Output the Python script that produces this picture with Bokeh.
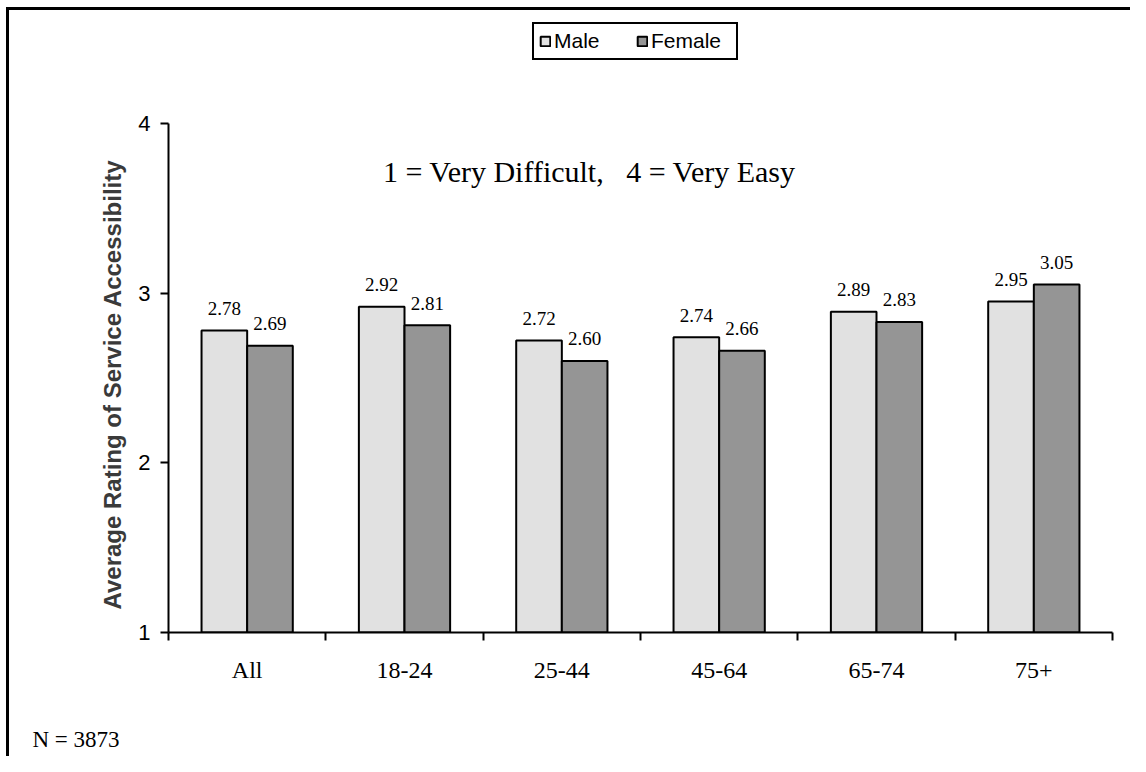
from bokeh.plotting import figure
from bokeh.models import (ColumnDataSource, Range1d, FixedTicker, Legend, LegendItem,
                          Label, Title)
from bokeh.transform import dodge
from bokeh.embed import file_html
from bokeh.resources import INLINE

categories = ["All", "18-24", "25-44", "45-64", "65-74", "75+"]
male = [2.78, 2.92, 2.72, 2.74, 2.89, 2.95]
female = [2.69, 2.81, 2.60, 2.66, 2.83, 3.05]

centers = [i + 0.5 for i in range(len(categories))]
src = ColumnDataSource(data=dict(
    x=centers, cat=categories, male=male, female=female,
    male_txt=["%.2f" % v for v in male],
    female_txt=["%.2f" % v for v in female],
))

# frame reaches up to the legend; the y axis itself only spans 1..4
p = figure(width=1130, height=756, output_backend="svg", toolbar_location=None,
           x_range=Range1d(0, len(categories)), y_range=Range1d(1, 4 + 103 / 170),
           min_border_left=168, min_border_right=18, min_border_top=20,
           min_border_bottom=123)
p.outline_line_color = None
p.xgrid.visible = False
p.ygrid.visible = False
p.border_fill_color = None
p.background_fill_color = None
# black frame on the left and top edge of the picture
p.styles = {"box-shadow": "inset 6px 7px 0 0 white, inset 9px 10px 0 0 black"}

serif = "Liberation Serif"
sans = "Liberation Sans"

w = 0.29
mb = p.vbar(x=dodge("x", -w / 2, range=p.x_range), top="male", bottom=1, width=w,
            source=src, fill_color="#e1e1e1", line_color="black", line_width=2)
fb = p.vbar(x=dodge("x", w / 2, range=p.x_range), top="female", bottom=1, width=w,
            source=src, fill_color="#959595", line_color="black", line_width=2)

p.text(x=dodge("x", -w / 2, range=p.x_range), y="male", text="male_txt", source=src,
       text_align="center", text_baseline="alphabetic", y_offset=-22,
       text_font=serif, text_font_size="19px", text_color="black")
p.text(x=dodge("x", w / 2, range=p.x_range), y="female", text="female_txt", source=src,
       text_align="center", text_baseline="alphabetic", y_offset=-22,
       text_font=serif, text_font_size="19px", text_color="black")

# x axis: labels at centres, tick marks at the category edges
xa = p.xaxis[0]
xa.ticker = FixedTicker(ticks=centers, minor_ticks=list(range(len(categories) + 1)))
xa.major_label_overrides = {c: n for c, n in zip(centers, categories)}
xa.major_tick_out = 0
xa.major_tick_in = 0
xa.minor_tick_out = 8
xa.minor_tick_in = 0
xa.minor_tick_line_width = 2
xa.minor_tick_line_color = "black"
xa.axis_line_width = 2
xa.axis_line_color = "black"
xa.major_label_standoff = 16
xa.major_label_text_font = serif
xa.major_label_text_font_size = "24px"
xa.major_label_text_color = "black"

ya = p.yaxis[0]
ya.bounds = (1, 4)
ya.ticker = FixedTicker(ticks=[1, 2, 3, 4])
ya.major_tick_out = 8
ya.major_tick_in = 0
ya.major_tick_line_width = 2
ya.major_tick_line_color = "black"
ya.minor_tick_out = 0
ya.minor_tick_in = 0
ya.axis_line_width = 2
ya.axis_line_color = "black"
ya.major_label_standoff = 10
ya.major_label_text_font = sans
ya.major_label_text_font_size = "22px"
ya.major_label_text_color = "black"

# y axis title as a side title, so it can sit on the 1..4 span
p.add_layout(Title(text="Average Rating of Service Accessibility", align="left",
                   offset=23, vertical_align="top",
                   text_font=sans, text_font_style="bold",
                   text_font_size="24px", text_color="#3a3a3a", standoff=16), "left")

legend = Legend(items=[LegendItem(label="Male", renderers=[mb]),
                       LegendItem(label="Female", renderers=[fb])],
                orientation="horizontal", location=(364, 572),
                border_line_color="black", border_line_width=2, border_line_alpha=1,
                background_fill_color="white", background_fill_alpha=1,
                glyph_width=12, glyph_height=12, label_standoff=3,
                label_width=80, spacing=2, padding=5, margin=0,
                label_text_font=sans, label_text_font_size="21px",
                label_text_color="black")
p.add_layout(legend, "center")

p.add_layout(Label(x=2.676, y=3.717,
                   text="1 = Very Difficult,\u00a0\u00a0 4 = Very Easy",
                   text_align="center", text_baseline="alphabetic",
                   text_font=serif, text_font_size="30px", text_color="black"))

# empty spacer below the axis, then the sample size note
p.add_layout(Title(text="\u00a0", text_font_size="20px", standoff=10), "below")
p.add_layout(Title(text="N = 3873", align="left", offset=-136,
                   text_font=serif, text_font_size="23px",
                   text_font_style="normal", text_color="black"), "below")

open("out.html", "w").write(file_html(p, INLINE))
